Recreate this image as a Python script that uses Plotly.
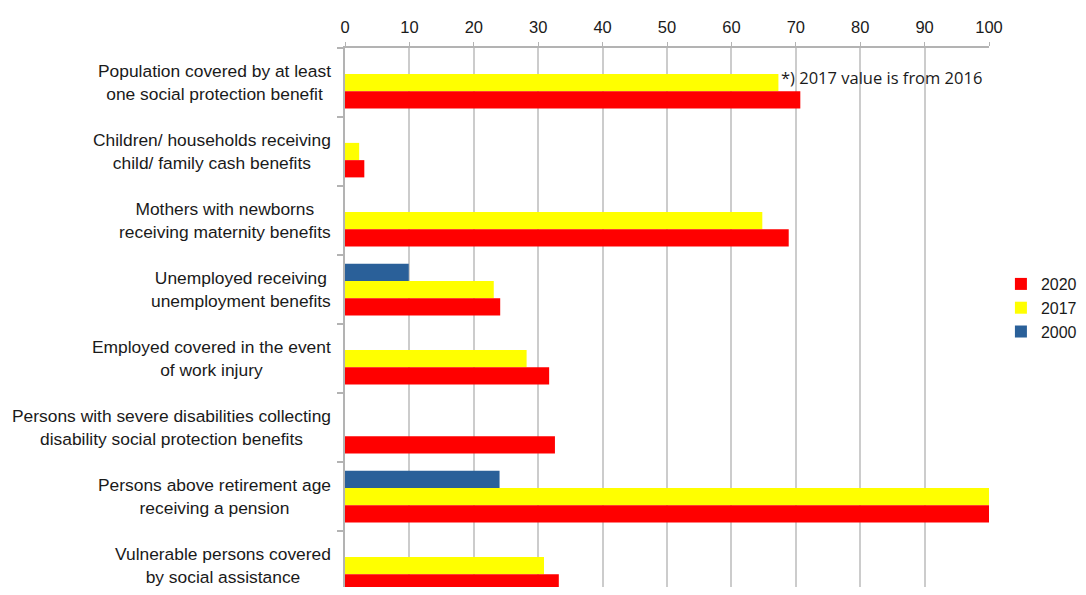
import plotly.graph_objects as go

categories = [
    "Population covered by at least<br>one social protection benefit",
    "Children/ households receiving<br>child/ family cash benefits",
    "Mothers with newborns<br>receiving maternity benefits",
    "Unemployed receiving<br>unemployment benefits",
    "Employed covered in the event<br>of work injury",
    "Persons with severe disabilities collecting<br>disability social protection benefits",
    "Persons above retirement age<br>receiving a pension",
    "Vulnerable persons covered<br>by social assistance",
]
v2000 = [None, None, None, 9.9, None, None, 24.0, None]
v2017 = [67.3, 2.2, 64.8, 23.1, 28.2, None, 100, 30.9]
v2020 = [70.7, 3.0, 68.9, 24.1, 31.7, 32.6, 100, 33.2]
series = [("2000", v2000, "#2a6099"), ("2017", v2017, "#ffff00"), ("2020", v2020, "#ff0000")]
note = "*) 2017 value is from 2016"
x_ticks = list(range(0, 101, 10))

fig = go.Figure()
for name, vals, col in series:
    fig.add_trace(go.Bar(
        y=categories, x=vals, name=name, orientation="h",
        marker=dict(color=col, line=dict(width=0)),
    ))

for c in categories:
    fig.add_annotation(
        x=0, xref="paper", xanchor="right", xshift=-12,
        y=c, yref="y", text=c, showarrow=False, align="center",
        font=dict(family="Liberation Sans, Arial", size=17.4, color="#1a1a1a"),
    )

fig.add_annotation(
    x=v2017[0], xref="x", xanchor="left", xshift=1,
    y=categories[0], yref="y", yshift=5, text=note, showarrow=False,
    font=dict(family="Open Sans", size=16.5, color="#1a1a1a"),
)

fig.update_layout(
    width=1070, height=579,
    margin=dict(l=337, r=89, t=40, b=0, autoexpand=False),
    paper_bgcolor="white", plot_bgcolor="white",
    barmode="group", bargap=0.25, bargroupgap=0,
    font=dict(family="Liberation Sans, Arial", size=16.5, color="#1a1a1a"),
    showlegend=True,
    legend=dict(traceorder="reversed", x=1.0185, xanchor="left", y=0.5176, yanchor="middle",
                itemwidth=30, font=dict(size=16), bgcolor="rgba(0,0,0,0)"),
    xaxis=dict(side="top", range=[0, 100], tickvals=x_ticks, ticktext=[str(t) for t in x_ticks],
               showgrid=True, gridcolor="#cccccc", gridwidth=1.5,
               showline=True, linecolor="#b3b3b3", linewidth=1.5,
               ticks="outside", ticklen=4, tickcolor="#b3b3b3",
               ticklabelstandoff=3,
               zeroline=False, tickfont=dict(size=16.5), fixedrange=True),
    yaxis=dict(type="category", range=[7.31, -0.5], showticklabels=False,
               tickson="boundaries", ticks="outside", ticklen=6, tickcolor="#b3b3b3", tickwidth=1.5,
               showline=True, linecolor="#b3b3b3", linewidth=1.5, showgrid=False, fixedrange=True),
)

fig.write_html("out.html")
